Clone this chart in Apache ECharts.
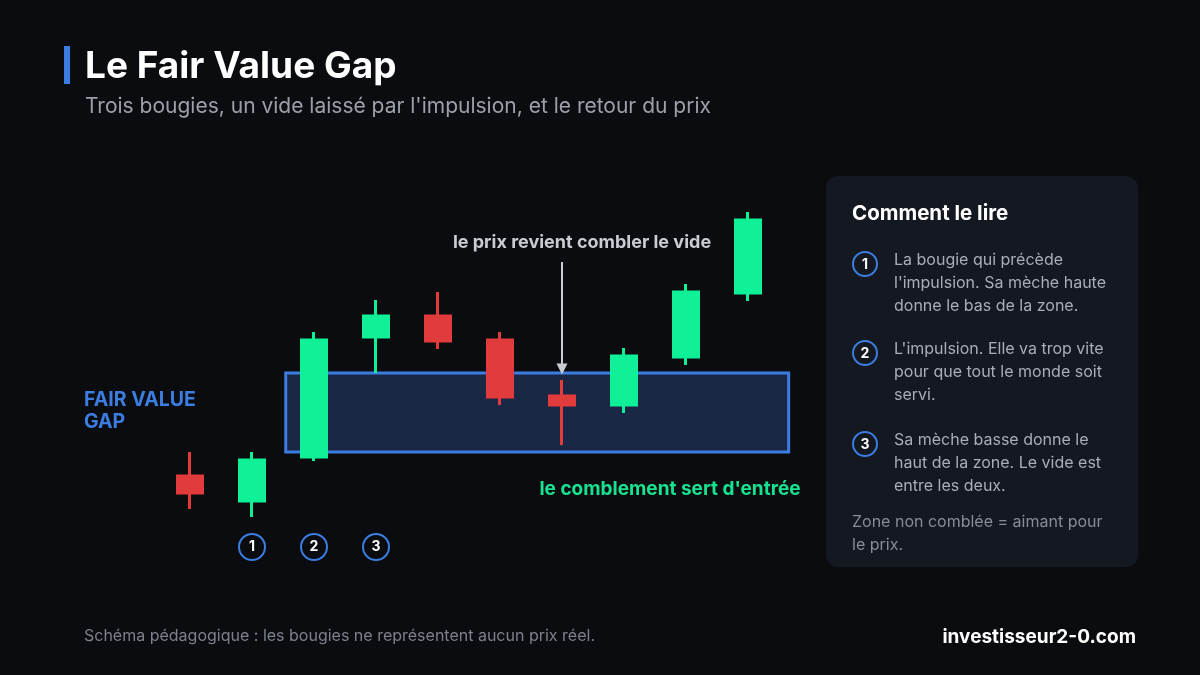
<!DOCTYPE html>
<html>
<head>
<meta charset="utf-8">
<script src="https://cdn.jsdelivr.net/npm/echarts@6/dist/echarts.min.js"></script>
<style>html,body{margin:0;padding:0;background:#0b0c10;}#c{width:1200px;height:675px;}</style>
</head>
<body>
<div id="c"></div>
<script>
// ---- data ----
const categories = ['0','1','2','3','4','5','6','7','8','9'];
// [open, close, low, high]
const candles = [
  [64, 47, 31, 88],
  [39, 80, 23, 88],
  [83, 200, 79, 208],
  [203, 224, 167, 240],
  [224, 199, 191, 248],
  [200, 143, 135, 208],
  [144, 135, 95, 160],
  [135, 184, 127, 192],
  [183, 248, 175, 256],
  [247, 320, 239, 328]
];
const zone = [[1.52, 9.68, 88, 167]]; // xStart, xEnd, low, high
const markers = [[1, -7, '1'], [2, -7, '2'], [3, -7, '3']];
const arrowFrom = [6, 278];
const arrowTo = [6, 171];

const FONT = 'Inter, "Noto Sans", sans-serif';
const GREEN = '#0ff097';
const RED = '#e23b3c';
const BLUE = '#3b7de0';

const chart = echarts.init(document.getElementById('c'));

const panelItems = [
  ['1', "La bougie qui précède\nl'impulsion. Sa mèche haute\ndonne le bas de la zone.", 264],
  ['2', "L'impulsion. Elle va trop vite\npour que tout le monde soit\nservi.", 353],
  ['3', "Sa mèche basse donne le\nhaut de la zone. Le vide est\nentre les deux.", 444]
];

const graphics = [
  {type:'rect', shape:{x:64,y:46,width:6,height:38}, style:{fill:BLUE}},
  {type:'text', style:{text:'Le Fair Value Gap', x:85, y:67, fill:'#ffffff', font:'bold 37px '+FONT, textVerticalAlign:'middle'}},
  {type:'text', style:{text:"Trois bougies, un vide laissé par l'impulsion, et le retour du prix", x:85, y:107, fill:'#9ba0aa', font:'21px '+FONT, textVerticalAlign:'middle'}},
  {type:'rect', shape:{x:826,y:176,width:312,height:391,r:12}, style:{fill:'#141821'}},
  {type:'text', style:{text:'Comment le lire', x:852, y:214, fill:'#ffffff', font:'bold 20.5px '+FONT, textVerticalAlign:'middle'}},
  {type:'text', style:{text:'Zone non comblée = aimant pour\nle prix.', x:852, y:511, fill:'#878c96', font:'16px '+FONT, lineHeight:23}},
  {type:'text', style:{text:'FAIR VALUE\nGAP', x:84, y:389, fill:BLUE, font:'bold 19.5px '+FONT, lineHeight:22}},
  {type:'text', style:{text:'le prix revient combler le vide', x:582, y:243, fill:'#c9ccd3', font:'bold 18px '+FONT, textAlign:'center', textVerticalAlign:'middle'}},
  {type:'text', style:{text:"le comblement sert d'entrée", x:670, y:489, fill:'#17e28f', font:'bold 19px '+FONT, textAlign:'center', textVerticalAlign:'middle'}},
  {type:'text', style:{text:'Schéma pédagogique : les bougies ne représentent aucun prix réel.', x:84, y:636, fill:'#7c818b', font:'16px '+FONT, textVerticalAlign:'middle'}},
  {type:'text', style:{text:'investisseur2-0.com', x:1136, y:637, fill:'#ffffff', font:'bold 19px '+FONT, textAlign:'right', textVerticalAlign:'middle'}}
];
panelItems.forEach(function(it){
  graphics.push({type:'circle', shape:{cx:865, cy:it[2], r:12}, style:{fill:'#141821', stroke:BLUE, lineWidth:2}});
  graphics.push({type:'text', style:{text:it[0], x:865, y:it[2]+1, fill:'#ffffff', font:'bold 14px '+FONT, textAlign:'center', textVerticalAlign:'middle'}});
  graphics.push({type:'text', style:{text:it[1], x:894, y:it[2]-15, fill:'#a8adb7', font:'16px '+FONT, lineHeight:23}});
});

chart.setOption({
  backgroundColor:'#0b0c10',
  animation:false,
  grid:{left:159, width:620, top:180, height:400},
  xAxis:[
    {type:'category', data:categories, show:false, boundaryGap:true},
    {type:'value', min:-0.5, max:9.5, show:false}
  ],
  yAxis:{type:'value', min:-40, max:360, show:false},
  graphic:graphics,
  series:[
    {
      type:'custom',
      xAxisIndex:1,
      z:1,
      data:zone,
      renderItem:function(params, api){
        const p0 = api.coord([api.value(0), api.value(3)]);
        const p1 = api.coord([api.value(1), api.value(2)]);
        return {type:'rect', shape:{x:p0[0]+1.5, y:p0[1], width:p1[0]-p0[0]-3, height:p1[1]-p0[1]},
          style:{fill:'#1a2745', stroke:BLUE, lineWidth:3}};
      }
    },
    {
      type:'candlestick',
      z:3,
      barWidth:26,
      data:candles.map(function(c){return [c[0], c[1], c[2], c[3]];}),
      itemStyle:{color:GREEN, color0:RED, borderColor:GREEN, borderColor0:RED, borderWidth:3},
      markLine:{
        silent:true,
        symbol:['none','triangle'],
        symbolSize:[11,11],
        label:{show:false},
        lineStyle:{color:'#c9ccd3', width:2, type:'solid'},
        data:[[{coord:arrowFrom}, {coord:arrowTo}]]
      }
    },
    {
      type:'scatter',
      z:4,
      symbolSize:26,
      data:markers,
      itemStyle:{color:'#0b0c10', borderColor:BLUE, borderWidth:2, opacity:1},
      label:{show:true, position:'inside', formatter:function(p){return p.data[2];}, color:'#ffffff', fontWeight:'bold', fontSize:14, fontFamily:FONT}
    }
  ]
});
</script>
</body>
</html>
